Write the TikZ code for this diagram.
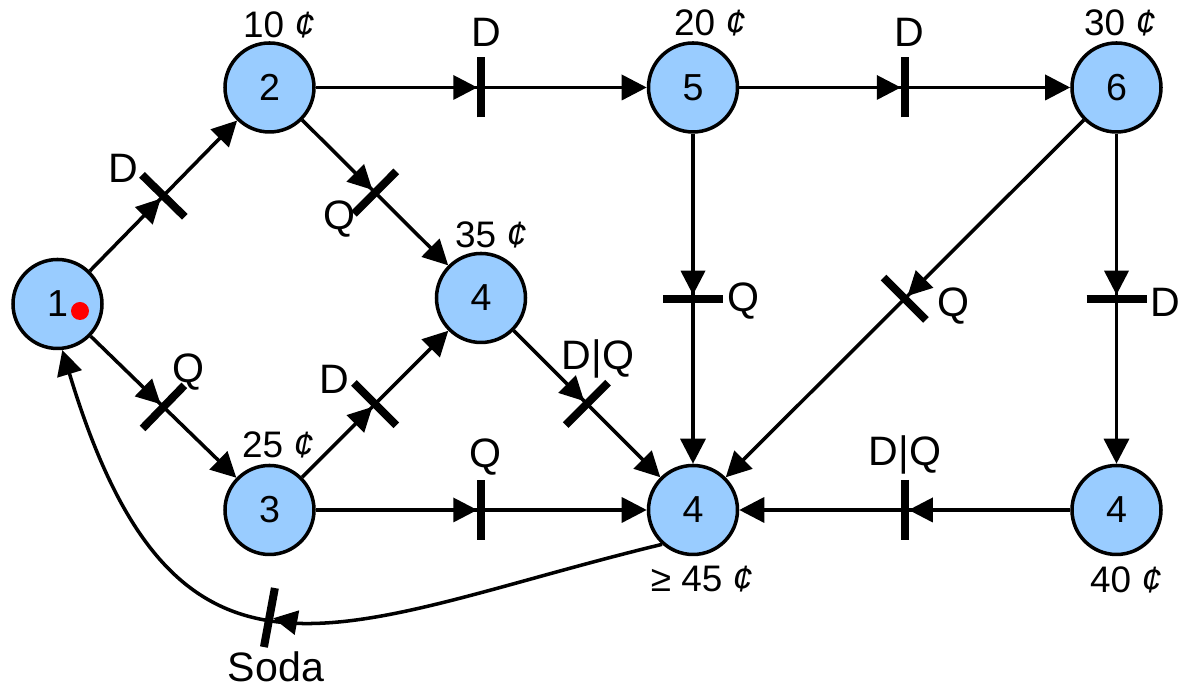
\documentclass[tikz,border=0pt]{standalone}
\usepackage{fontspec}
\setmainfont{Liberation Sans}
\usetikzlibrary{arrows.meta, decorations.markings}
\definecolor{nodeblue}{HTML}{99CCFF}
\newcommand{\gatemark}{%
  \fill (-0.04,0) -- (-0.28,0.125) -- (-0.28,-0.125) -- cycle;
  \draw[-, line width=0.08cm] (0,-0.3) -- (0,0.3);}
\newcommand{\cent}{{\itshape ¢}}
\tikzset{
  state/.style={circle, draw, line width=1pt, fill=nodeblue, minimum size=0.89cm, inner sep=0pt},
  link/.style={line width=1pt, -{Triangle[length=0.25cm, width=0.25cm]},
    postaction=decorate, decoration={markings, mark=at position #1 with {\gatemark}}},
  link/.default=0.5,
  tag/.style={anchor=base, inner sep=0pt, font=\fontsize{10.5}{12.6}\selectfont},
  coin/.style={anchor=base, inner sep=0pt, font=\fontsize{11.7}{14}\selectfont}
}
\begin{document}
\begin{tikzpicture}[font=\fontsize{10.7}{12.8}\selectfont]
  \useasboundingbox (0,0) rectangle (11.8,6.88);
  % vending machine states
  \node[state] (n1)  at (0.575,3.84) {1};
  \node[state] (n2)  at (2.695,6.005) {2};
  \node[state] (n3)  at (2.695,1.78) {3};
  \node[state] (n4a) at (4.81,3.90) {4};
  \node[state] (n5)  at (6.93,6.005) {5};
  \node[state] (n6)  at (11.165,6.005) {6};
  \node[state] (n4b) at (6.93,1.78) {4};
  \node[state] (n4c) at (11.165,1.78) {4};
  \fill[red] ([shift={(0.225,-0.07)}]n1.center) circle (0.09);
  % amounts
  \node[tag] (c2)  at (2.79,6.50) {10 \cent};
  \node[tag] (c5)  at (7.10,6.52) {20 \cent};
  \node[tag] (c6)  at (11.20,6.52) {30 \cent};
  \node[tag] (c4a) at (4.91,4.40) {35 \cent};
  \node[tag] (c3)  at (2.78,2.30) {25 \cent};
  \node[tag] (c4b) at (7.02,0.96) {≥ 45 \cent};
  \node[tag] (c4c) at (11.26,0.95) {40 \cent};
  % transitions
  \draw[link] (n1) -- (n2);
  \draw[link] (n1) -- (n3);
  \draw[link] (n2) -- (n4a);
  \draw[link] (n3) -- (n4a);
  \draw[link] (n2) -- (n5);
  \draw[link] (n5) -- (n6);
  \draw[link] (n5) -- (n4b);
  \draw[link] (n6) -- (n4b);
  \draw[link] (n6) -- (n4c);
  \draw[link] (n4a) -- (n4b);
  \draw[link] (n3) -- (n4b);
  \draw[link] (n4c) -- (n4b);
  \draw[link=0.53] (n4b.228) .. controls +(193.6:3.3) and +(286.8:4.0) .. (n1.276);
  % coins
  \node[coin] (l12) at (1.23,5.05) {D};
  \node[coin] (l13) at (1.88,3.05) {Q};
  \node[coin] (l24) at (3.39,4.58) {Q};
  \node[coin] (l34) at (3.34,2.94) {D};
  \node[coin] (l25) at (4.86,6.41) {D};
  \node[coin] (l56) at (9.09,6.41) {D};
  \node[coin] (l54) at (7.43,3.76) {Q};
  \node[coin] (l64) at (9.53,3.71) {Q};
  \node[coin] (l6c) at (11.65,3.71) {D};
  \node[coin] (l44) at (5.98,3.18) {D|Q};
  \node[coin] (l3b) at (4.85,2.20) {Q};
  \node[coin] (lcb) at (9.05,2.22) {D|Q};
  \node[coin] (soda) at (2.76,0.06) {Soda};
\end{tikzpicture}
\end{document}
